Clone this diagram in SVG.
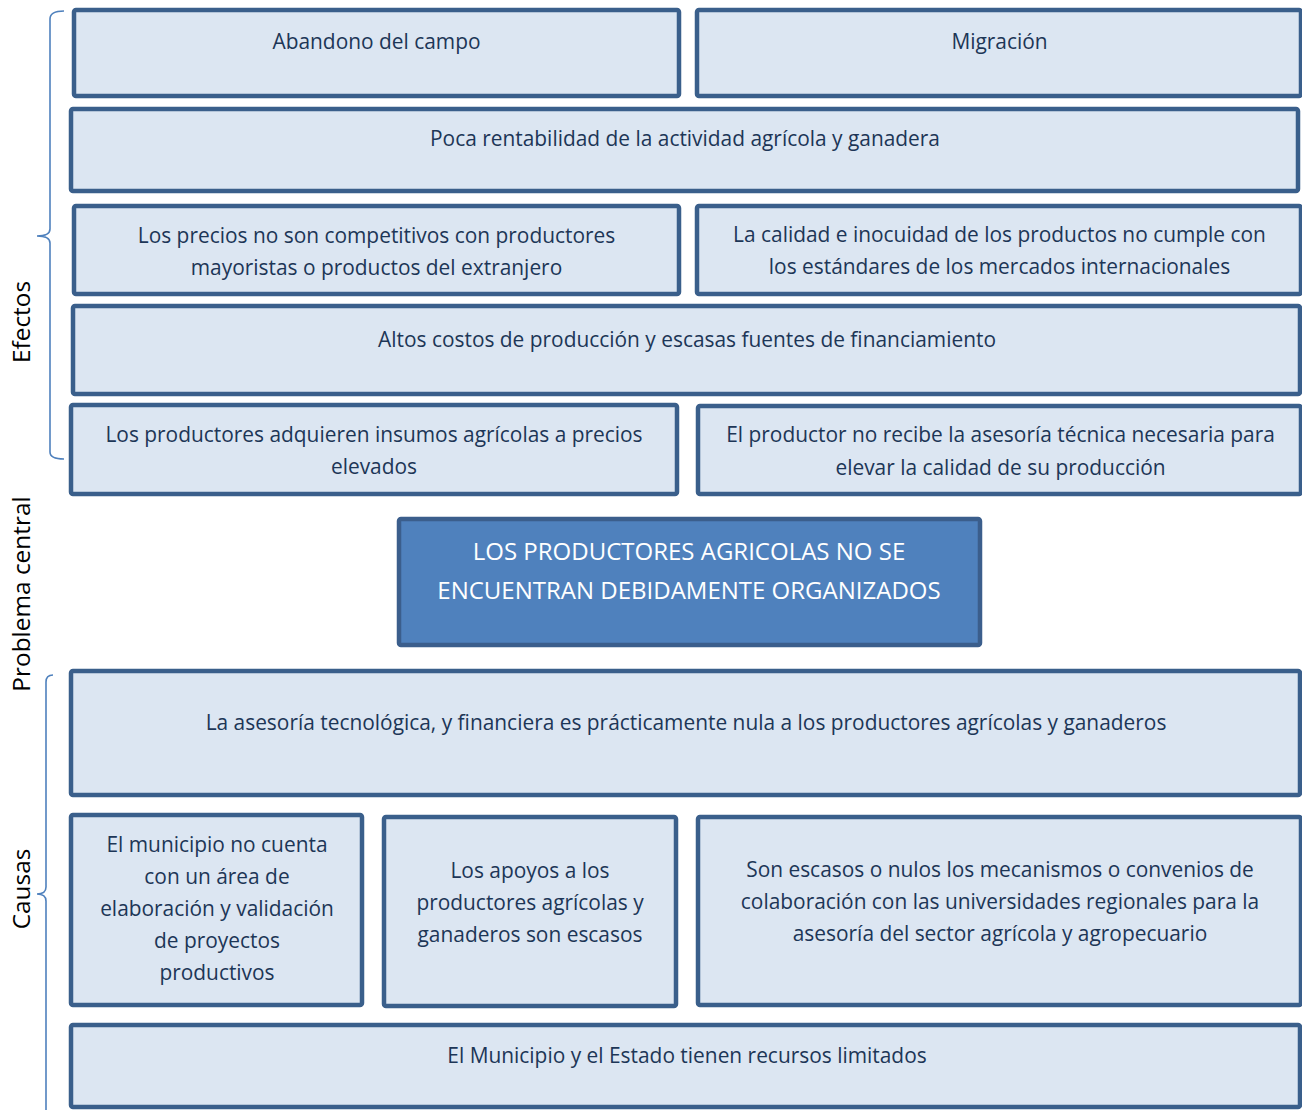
<svg xmlns="http://www.w3.org/2000/svg" width="1302" height="1110" viewBox="0 0 1302 1110">
<style>
.box{fill:#DCE6F2;stroke:#3A5F8B;stroke-width:4.5}
.core{fill:#4F81BD;stroke:#3B5E8C;stroke-width:4.5}
.t{font-family:"Open Sans","Liberation Sans",sans-serif;font-size:20.9px;fill:#1D3657;text-anchor:middle}
.ct{font-family:"Open Sans","Liberation Sans",sans-serif;font-size:24px;fill:#FFFFFF;text-anchor:middle}
.lab{font-family:"Open Sans","Liberation Sans",sans-serif;font-size:24.4px;fill:#000000;text-anchor:middle}
.brace{fill:none;stroke:#4F81BD;stroke-width:1.6}
</style>
<rect width="1302" height="1110" fill="#FFFFFF"/>
<g id="labels">
<text class="lab" transform="translate(30,322) rotate(-90)">Efectos</text>
<text class="lab" transform="translate(30,594) rotate(-90)">Problema central</text>
<text class="lab" transform="translate(30,889) rotate(-90)">Causas</text>
</g>
<g id="connectors">
<path class="brace" d="M64,11 Q50,11 50,19 L50,229 Q50,236 37,236 Q50,236 50,243 L50,452 Q50,459 64,459"/>
<path class="brace" d="M53,675 Q46,675 46,682 L46,887 Q46,894 37,894 Q46,894 46,901 L46,1112"/>
</g>
<g id="n-abandono"><rect class="box" x="74" y="10" width="605" height="86" rx="2"/><text class="t" x="376.5" y="49">Abandono del campo</text></g>
<g id="n-migracion"><rect class="box" x="697" y="10" width="604" height="86" rx="2"/><text class="t" x="999.5" y="49">Migración</text></g>
<g id="n-poca"><rect class="box" x="71" y="109" width="1227" height="82" rx="2"/><text class="t" x="685" y="146">Poca rentabilidad de la actividad agrícola y ganadera</text></g>
<g id="n-precios"><rect class="box" x="74" y="206" width="605" height="88" rx="2"/><text class="t" x="376.5" y="243">Los precios no son competitivos con productores</text><text class="t" x="376.5" y="275">mayoristas o productos del extranjero</text></g>
<g id="n-calidad"><rect class="box" x="697" y="206" width="604" height="88" rx="2"/><text class="t" x="999.5" y="242">La calidad e inocuidad de los productos no cumple con</text><text class="t" x="999.5" y="274">los estándares de los mercados internacionales</text></g>
<g id="n-altos"><rect class="box" x="73" y="306" width="1227" height="88" rx="2"/><text class="t" x="687" y="347">Altos costos de producción y escasas fuentes de financiamiento</text></g>
<g id="n-insumos"><rect class="box" x="71" y="405" width="606" height="89" rx="2"/><text class="t" x="374" y="442">Los productores adquieren insumos agrícolas a precios</text><text class="t" x="374" y="474">elevados</text></g>
<g id="n-asesoria-tec"><rect class="box" x="698" y="406" width="603" height="88" rx="2"/><text class="t" x="1000.5" y="442">El productor no recibe la asesoría técnica necesaria para</text><text class="t" x="1000.5" y="475">elevar la calidad de su producción</text></g>
<g id="n-central"><rect class="core" x="399" y="519" width="581" height="126" rx="2"/><text class="ct" x="689" y="560">LOS PRODUCTORES AGRICOLAS NO SE</text><text class="ct" x="689" y="599">ENCUENTRAN DEBIDAMENTE ORGANIZADOS</text></g>
<g id="n-asesoria-nula"><rect class="box" x="71" y="671" width="1229" height="124" rx="2"/><text class="t" x="686" y="730">La asesoría tecnológica, y financiera es prácticamente nula a los productores agrícolas y ganaderos</text></g>
<g id="n-municipio"><rect class="box" x="71" y="815" width="291" height="190" rx="2"/><text class="t" x="217" y="852">El municipio no cuenta</text><text class="t" x="217" y="884">con un área de</text><text class="t" x="217" y="916">elaboración y validación</text><text class="t" x="217" y="948">de proyectos</text><text class="t" x="217" y="980">productivos</text></g>
<g id="n-apoyos"><rect class="box" x="384" y="817" width="292" height="189" rx="2"/><text class="t" x="530" y="878">Los apoyos a los</text><text class="t" x="530" y="910">productores agrícolas y</text><text class="t" x="530" y="942">ganaderos son escasos</text></g>
<g id="n-convenios"><rect class="box" x="698" y="817" width="603" height="188" rx="2"/><text class="t" x="1000" y="877">Son escasos o nulos los mecanismos o convenios de</text><text class="t" x="1000" y="909">colaboración con las universidades regionales para la</text><text class="t" x="1000" y="941">asesoría del sector agrícola y agropecuario</text></g>
<g id="n-recursos"><rect class="box" x="71" y="1025" width="1229" height="82" rx="2"/><text class="t" x="687" y="1063">El Municipio y el Estado tienen recursos limitados</text></g>
</svg>
